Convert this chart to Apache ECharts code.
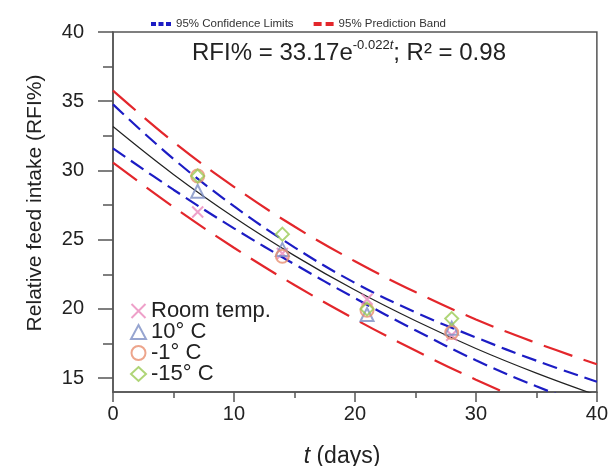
<!DOCTYPE html>
<html>
<head>
<meta charset="utf-8">
<script src="https://cdn.jsdelivr.net/npm/echarts@6/dist/echarts.min.js"></script>
<style>
html,body{margin:0;padding:0;background:#fff;}
#chart{width:611px;height:466px;}
</style>
</head>
<body>
<div id="chart"></div>
<script>
// ---- data ----
var sampleDays = [7, 14, 21, 28];
var roomTemp = [27.0, 24.0, 20.7, 18.1];
var temp10 = [28.5, 24.3, 19.6, 18.6];
var tempMinus1 = [29.6, 23.8, 19.9, 18.3];
var tempMinus15 = [29.6, 25.4, 20.0, 19.3];

var curveDays = [0, 5, 10, 15, 20, 25, 30, 35, 40];
var fitLine = [33.17, 29.71, 26.62, 23.85, 21.36, 19.14, 17.14, 15.36, 13.76];
var confUpper = [34.77, 30.83, 27.42, 24.45, 21.88, 19.76, 17.94, 16.26, 14.74];
var confLower = [31.60, 28.61, 25.82, 23.23, 20.78, 18.46, 16.29, 14.41, 12.76];
var predUpper = [35.77, 32.06, 28.82, 25.95, 23.44, 21.22, 19.24, 17.54, 16.00];
var predLower = [30.57, 27.36, 24.42, 21.73, 19.26, 16.99, 14.89, 13.01, 11.31];

var yTickLabels = [15, 20, 25, 30, 35, 40];
var yMinorTicks = [17.5, 22.5, 27.5, 32.5, 37.5];

var confName = '95% Confidence Limits';
var predName = '95% Prediction Band';
var seriesNames = ['Room temp.', '10° C', '-1° C', '-15° C'];

function pairs(xs, ys) { return xs.map(function (x, i) { return [x, ys[i]]; }); }

var axisColor = '#555';
var textColor = '#222';
var fontFam = '"Liberation Sans", Arial, sans-serif';

var xMark = 'path://M0,0L10,10M10,0L0,10';
var markerColors = ['#ea88bc', '#7d8ec4', '#e98f6f', '#9bcb55'];
var markerSymbols = [xMark, 'triangle', 'circle', 'diamond'];
var markerData = [roomTemp, temp10, tempMinus1, tempMinus15];
var redColor = '#e3262b';
var blueColor = '#1c1cc4';

var chart = echarts.init(document.getElementById('chart'), null, {renderer: 'canvas'});

var series = [
  {name: predName, type: 'line', smooth: 0.4, symbol: 'none', data: pairs(curveDays, predUpper),
   lineStyle: {color: redColor, width: 2.2, type: [30, 12]}, itemStyle: {color: redColor}, z: 2},
  {name: predName, type: 'line', smooth: 0.4, symbol: 'none', data: pairs(curveDays, predLower),
   lineStyle: {color: redColor, width: 2.2, type: [30, 12]}, itemStyle: {color: redColor}, z: 2},
  {name: confName, type: 'line', smooth: 0.4, symbol: 'none', data: pairs(curveDays, confUpper),
   lineStyle: {color: blueColor, width: 2.2, type: [15, 7]}, itemStyle: {color: blueColor}, z: 2},
  {name: confName, type: 'line', smooth: 0.4, symbol: 'none', data: pairs(curveDays, confLower),
   lineStyle: {color: blueColor, width: 2.2, type: [15, 7]}, itemStyle: {color: blueColor}, z: 2},
  {name: 'fit', type: 'line', smooth: 0.4, symbol: 'none', data: pairs(curveDays, fitLine),
   lineStyle: {color: '#222', width: 1.2}, z: 2}
];
seriesNames.forEach(function (n, i) {
  series.push({
    name: n, type: 'scatter', symbol: markerSymbols[i], symbolSize: i === 0 ? 11 : 13,
    data: pairs(sampleDays, markerData[i]),
    itemStyle: {color: 'transparent', borderColor: markerColors[i], borderWidth: 2},
    z: 3
  });
});

var lineStyleAxis = {color: axisColor, width: 1.5};

chart.setOption({
  animation: false,
  backgroundColor: '#fff',
  textStyle: {fontFamily: fontFam},
  grid: {left: 113, right: 11, top: 32, bottom: 74, show: true, borderColor: axisColor, borderWidth: 1.5, backgroundColor: 'transparent'},
  legend: [
    {
      left: 146, top: 13, itemWidth: 20, itemHeight: 4, itemGap: 20,
      textStyle: {fontSize: 11.5, color: '#333', fontFamily: fontFam},
      data: [
        {name: confName, icon: 'path://M0,0h5v4h-5zM7.5,0h5v4h-5zM15,0h5v4h-5z', itemStyle: {color: blueColor}},
        {name: predName, icon: 'path://M0,0h8v4h-8zM12,0h8v4h-8z', itemStyle: {color: redColor}}
      ]
    },
    {
      orient: 'vertical', left: 125, top: 295, itemWidth: 15, itemHeight: 14, itemGap: -1,
      textStyle: {fontSize: 22, color: textColor, fontFamily: fontFam},
      data: seriesNames.map(function (n, i) {
        return {name: n, icon: markerSymbols[i], itemStyle: {color: 'transparent', borderColor: markerColors[i], borderWidth: 2}};
      })
    }
  ],
  xAxis: {
    type: 'value', min: 0, max: 40, interval: 10,
    axisLine: {show: true, onZero: false, lineStyle: lineStyleAxis},
    axisTick: {show: true, length: 10, lineStyle: lineStyleAxis},
    minorTick: {show: true, splitNumber: 2, length: 6, lineStyle: lineStyleAxis},
    splitLine: {show: false},
    axisLabel: {margin: 12, fontSize: 20, color: textColor, fontFamily: fontFam}
  },
  yAxis: [
    {
      type: 'value', min: 14, max: 40,
      axisLine: {show: true, onZero: false, lineStyle: lineStyleAxis},
      axisTick: {show: true, length: 15, lineStyle: lineStyleAxis, customValues: yTickLabels},
      axisLabel: {margin: 29, fontSize: 20, color: textColor, fontFamily: fontFam, customValues: yTickLabels},
      splitLine: {show: false}
    },
    {
      type: 'value', min: 14, max: 40, position: 'left',
      axisLine: {show: false},
      axisTick: {show: true, length: 10, lineStyle: lineStyleAxis, customValues: yMinorTicks},
      axisLabel: {show: false},
      splitLine: {show: false}
    }
  ],
  graphic: [
    {
      type: 'text', x: 349, y: 53,
      style: {
        text: '{a|RFI% = 33.17e}{s|-0.022}{si|t}{a|; R² = 0.98}',
        textAlign: 'center', textVerticalAlign: 'middle',
        rich: {
          a: {fontSize: 24, fontFamily: fontFam, fill: textColor, lineHeight: 28},
          s: {fontSize: 13, fontFamily: fontFam, fill: textColor, verticalAlign: 'top'},
          si: {fontSize: 13, fontFamily: fontFam, fontStyle: 'italic', fill: textColor, verticalAlign: 'top'}
        }
      }
    },
    {
      type: 'text', x: 35, y: 203, rotation: Math.PI / 2,
      style: {text: 'Relative feed intake (RFI%)', fontSize: 21, fontFamily: fontFam, fill: textColor,
              textAlign: 'center', textVerticalAlign: 'middle'}
    },
    {
      type: 'text', x: 342, y: 457,
      style: {
        text: '{i|t} (days)', textAlign: 'center', textVerticalAlign: 'middle',
        rich: {
          i: {fontSize: 23, fontStyle: 'italic', fontFamily: fontFam, fill: textColor}
        },
        fontSize: 23, fontFamily: fontFam, fill: textColor
      }
    }
  ],
  series: series
});
</script>
</body>
</html>
